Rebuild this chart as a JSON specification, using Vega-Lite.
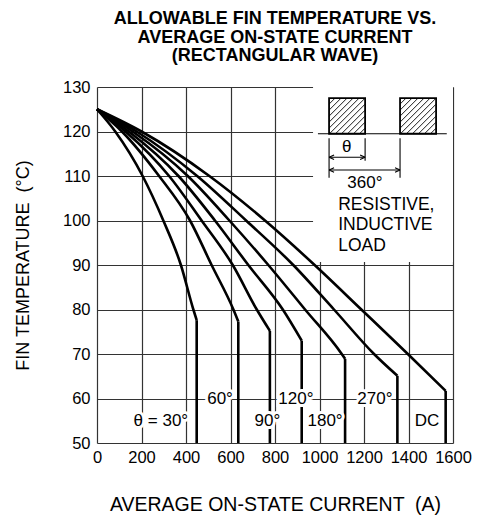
{
  "$schema": "https://vega.github.io/schema/vega-lite/v6.json",
  "width": 356,
  "height": 356,
  "autosize": "none",
  "padding": {"left": 97, "top": 87, "right": 27, "bottom": 74},
  "background": "white",
  "config": {"view": {"stroke": null}, "font": "Liberation Sans"},
  "title": {
    "text": ["ALLOWABLE FIN TEMPERATURE VS.", "AVERAGE ON-STATE CURRENT", "(RECTANGULAR WAVE)"],
    "font": "Liberation Sans", "fontSize": 18, "fontWeight": "bold", "lineHeight": 18.5,
    "anchor": "middle", "color": "black", "offset": 14
  },
  "datasets": {
    "curves": [
      {"theta": "30", "I": 0, "T": 125}, {"theta": "30", "I": 82, "T": 120}, {"theta": "30", "I": 205, "T": 110}, {"theta": "30", "I": 298, "T": 100}, {"theta": "30", "I": 377, "T": 90}, {"theta": "30", "I": 433, "T": 80}, {"theta": "30", "I": 448, "T": 77.6},
      {"theta": "60", "I": 0, "T": 125}, {"theta": "60", "I": 112, "T": 120}, {"theta": "60", "I": 279, "T": 110}, {"theta": "60", "I": 418, "T": 100}, {"theta": "60", "I": 515, "T": 90}, {"theta": "60", "I": 613, "T": 80}, {"theta": "60", "I": 635, "T": 77.3},
      {"theta": "90", "I": 0, "T": 125}, {"theta": "90", "I": 128, "T": 120}, {"theta": "90", "I": 324, "T": 110}, {"theta": "90", "I": 470, "T": 100}, {"theta": "90", "I": 610, "T": 90}, {"theta": "90", "I": 718, "T": 80}, {"theta": "90", "I": 777, "T": 75.2},
      {"theta": "120", "I": 0, "T": 125}, {"theta": "120", "I": 143, "T": 120}, {"theta": "120", "I": 366, "T": 110}, {"theta": "120", "I": 530, "T": 100}, {"theta": "120", "I": 680, "T": 90}, {"theta": "120", "I": 835, "T": 80}, {"theta": "120", "I": 920, "T": 73},
      {"theta": "180", "I": 0, "T": 125}, {"theta": "180", "I": 160, "T": 120}, {"theta": "180", "I": 408, "T": 110}, {"theta": "180", "I": 595, "T": 100}, {"theta": "180", "I": 770, "T": 90}, {"theta": "180", "I": 935, "T": 80}, {"theta": "180", "I": 1100, "T": 70}, {"theta": "180", "I": 1115, "T": 68.9},
      {"theta": "270", "I": 0, "T": 125}, {"theta": "270", "I": 178, "T": 120}, {"theta": "270", "I": 450, "T": 110}, {"theta": "270", "I": 670, "T": 100}, {"theta": "270", "I": 882, "T": 90}, {"theta": "270", "I": 1065, "T": 80}, {"theta": "270", "I": 1245, "T": 70}, {"theta": "270", "I": 1350, "T": 65.1},
      {"theta": "DC", "I": 0, "T": 125}, {"theta": "DC", "I": 200, "T": 120}, {"theta": "DC", "I": 505, "T": 110}, {"theta": "DC", "I": 755, "T": 100}, {"theta": "DC", "I": 978, "T": 90}, {"theta": "DC", "I": 1188, "T": 80}, {"theta": "DC", "I": 1397, "T": 70}, {"theta": "DC", "I": 1567, "T": 61.7}
    ],
    "knees": [
      {"theta": "30", "I": 448, "T": 77.6}, {"theta": "60", "I": 635, "T": 77.3}, {"theta": "90", "I": 777, "T": 75.2}, {"theta": "120", "I": 920, "T": 73}, {"theta": "180", "I": 1115, "T": 68.9}, {"theta": "270", "I": 1350, "T": 65.1}, {"theta": "DC", "I": 1567, "T": 61.7}
    ],
    "labels": [
      {"label": "θ = 30°", "I": 287, "T": 55}, {"label": "60°", "I": 553, "T": 60}, {"label": "90°", "I": 766, "T": 55}, {"label": "120°", "I": 894, "T": 60}, {"label": "180°", "I": 1025, "T": 55}, {"label": "270°", "I": 1249, "T": 60}, {"label": "DC", "I": 1483, "T": 55}
    ],
    "insetbg": [{"I": 971, "I2": 1600, "T": 90.7, "T2": 130}],
    "pulses": [{"I": 1043, "I2": 1205, "T": 119.5, "T2": 127.5}, {"I": 1362, "I2": 1524, "T": 119.5, "T2": 127.5}],
    "hatch": [
      {"I": 1043, "T": 126.15, "I2": 1070, "T2": 127.5}, {"I": 1043, "T": 124.8, "I2": 1097, "T2": 127.5}, {"I": 1043, "T": 123.45, "I2": 1124, "T2": 127.5}, {"I": 1043, "T": 122.1, "I2": 1151, "T2": 127.5}, {"I": 1043, "T": 120.75, "I2": 1178, "T2": 127.5}, {"I": 1045, "T": 119.5, "I2": 1205, "T2": 127.5}, {"I": 1072, "T": 119.5, "I2": 1205, "T2": 126.15}, {"I": 1099, "T": 119.5, "I2": 1205, "T2": 124.8}, {"I": 1126, "T": 119.5, "I2": 1205, "T2": 123.45}, {"I": 1153, "T": 119.5, "I2": 1205, "T2": 122.1}, {"I": 1180, "T": 119.5, "I2": 1205, "T2": 120.75},
      {"I": 1362, "T": 126.15, "I2": 1389, "T2": 127.5}, {"I": 1362, "T": 124.8, "I2": 1416, "T2": 127.5}, {"I": 1362, "T": 123.45, "I2": 1443, "T2": 127.5}, {"I": 1362, "T": 122.1, "I2": 1470, "T2": 127.5}, {"I": 1362, "T": 120.75, "I2": 1497, "T2": 127.5}, {"I": 1364, "T": 119.5, "I2": 1524, "T2": 127.5}, {"I": 1391, "T": 119.5, "I2": 1524, "T2": 126.15}, {"I": 1418, "T": 119.5, "I2": 1524, "T2": 124.8}, {"I": 1445, "T": 119.5, "I2": 1524, "T2": 123.45}, {"I": 1472, "T": 119.5, "I2": 1524, "T2": 122.1}, {"I": 1499, "T": 119.5, "I2": 1524, "T2": 120.75}
    ],
    "insetlines": [
      {"I": 993, "T": 119.5, "I2": 1572, "T2": 119.5},
      {"I": 1043, "T": 118.5, "I2": 1043, "T2": 109.6},
      {"I": 1205, "T": 118.5, "I2": 1205, "T2": 113.4},
      {"I": 1362, "T": 118.5, "I2": 1362, "T2": 109.6},
      {"I": 1043, "T": 114.2, "I2": 1205, "T2": 114.2},
      {"I": 1043, "T": 111.35, "I2": 1362, "T2": 111.35}
    ],
    "arrowL": [{"I": 1043, "T": 114.2}, {"I": 1043, "T": 111.35}],
    "arrowR": [{"I": 1205, "T": 114.2}, {"I": 1362, "T": 111.35}],
    "insettextc": [{"label": "θ", "I": 1122, "T": 116.6}, {"label": "360°", "I": 1204, "T": 108.5}],
    "insettextl": [{"label": "RESISTIVE,", "I": 1084, "T": 103.5}, {"label": "INDUCTIVE", "I": 1084, "T": 99.0}, {"label": "LOAD", "I": 1084, "T": 94.3}]
  },
  "encoding": {
    "x": {
      "field": "I", "type": "quantitative",
      "scale": {"domain": [0, 1600], "nice": false, "zero": false},
      "axis": {
        "values": [0, 200, 400, 600, 800, 1000, 1200, 1400, 1600], "format": "d",
        "grid": true, "gridColor": "#333", "gridWidth": 1.2, "gridOpacity": 1,
        "domain": false, "ticks": false, "tickSize": 0,
        "labelPadding": 6, "labelFontSize": 16.5, "labelFont": "Liberation Sans", "labelColor": "black",
        "labelFlush": false, "labelOverlap": false,
        "title": "AVERAGE ON-STATE CURRENT \u00a0(A)", "titleFont": "Liberation Sans", "titleFontSize": 19.5,
        "titleFontWeight": "normal", "titleColor": "black", "titlePadding": 30
      }
    },
    "y": {
      "field": "T", "type": "quantitative",
      "scale": {"domain": [50, 130], "nice": false, "zero": false},
      "axis": {
        "values": [50, 60, 70, 80, 90, 100, 110, 120, 130],
        "grid": true, "gridColor": "#333", "gridWidth": 1.2, "gridOpacity": 1,
        "domain": false, "ticks": false, "tickSize": 0,
        "labelPadding": 7, "labelFontSize": 16.5, "labelFont": "Liberation Sans", "labelColor": "black",
        "labelFlush": false, "labelOverlap": false,
        "title": "FIN TEMPERATURE \u00a0(°C)", "titleFont": "Liberation Sans", "titleFontSize": 18,
        "titleFontWeight": "normal", "titleColor": "black", "titlePadding": 30
      }
    }
  },
  "layer": [
    {"data": {"name": "insetbg"}, "mark": {"type": "rect", "fill": "white", "stroke": null},
     "encoding": {"x2": {"field": "I2"}, "y2": {"field": "T2"}}},
    {"data": {"name": "curves"}, "mark": {"type": "line", "color": "black", "strokeWidth": 2.6, "interpolate": "monotone"},
     "encoding": {"detail": {"field": "theta"}}},
    {"data": {"name": "knees"}, "mark": {"type": "rule", "color": "black", "strokeWidth": 2.6},
     "encoding": {"y2": {"datum": 50}}},
    {"data": {"name": "labels"}, "mark": {"type": "text", "fontSize": 17, "font": "Liberation Sans", "stroke": "white", "strokeWidth": 6, "fill": "white", "align": "center", "baseline": "middle"},
     "encoding": {"text": {"field": "label"}}},
    {"data": {"name": "labels"}, "mark": {"type": "text", "fontSize": 17, "font": "Liberation Sans", "fill": "black", "align": "center", "baseline": "middle"},
     "encoding": {"text": {"field": "label"}}},
    {"data": {"name": "hatch"}, "mark": {"type": "rule", "color": "black", "strokeWidth": 0.9},
     "encoding": {"x2": {"field": "I2"}, "y2": {"field": "T2"}}},
    {"data": {"name": "pulses"}, "mark": {"type": "rect", "fill": null, "stroke": "black", "strokeWidth": 1.8},
     "encoding": {"x2": {"field": "I2"}, "y2": {"field": "T2"}}},
    {"data": {"name": "insetlines"}, "mark": {"type": "rule", "color": "black", "strokeWidth": 1.1},
     "encoding": {"x2": {"field": "I2"}, "y2": {"field": "T2"}}},
    {"data": {"name": "arrowL"}, "mark": {"type": "point", "shape": "M0,0L1,-0.45M0,0L1,0.45", "size": 100, "filled": false, "stroke": "black", "strokeWidth": 1.1, "opacity": 1},
     "encoding": {}},
    {"data": {"name": "arrowR"}, "mark": {"type": "point", "shape": "M0,0L-1,-0.45M0,0L-1,0.45", "size": 100, "filled": false, "stroke": "black", "strokeWidth": 1.1, "opacity": 1},
     "encoding": {}},
    {"data": {"name": "insettextc"}, "mark": {"type": "text", "fontSize": 17, "font": "Liberation Sans", "fill": "black", "align": "center", "baseline": "middle"},
     "encoding": {"text": {"field": "label"}}},
    {"data": {"name": "insettextl"}, "mark": {"type": "text", "fontSize": 17.5, "font": "Liberation Sans", "fill": "black", "align": "left", "baseline": "middle"},
     "encoding": {"text": {"field": "label"}}},
    {"data": {"values": [{}]}, "mark": {"type": "rect", "fill": null, "stroke": "black", "strokeWidth": 3},
     "encoding": {"x": {"datum": 0}, "x2": {"datum": 1600}, "y": {"datum": 50}, "y2": {"datum": 130}}}
  ]
}
